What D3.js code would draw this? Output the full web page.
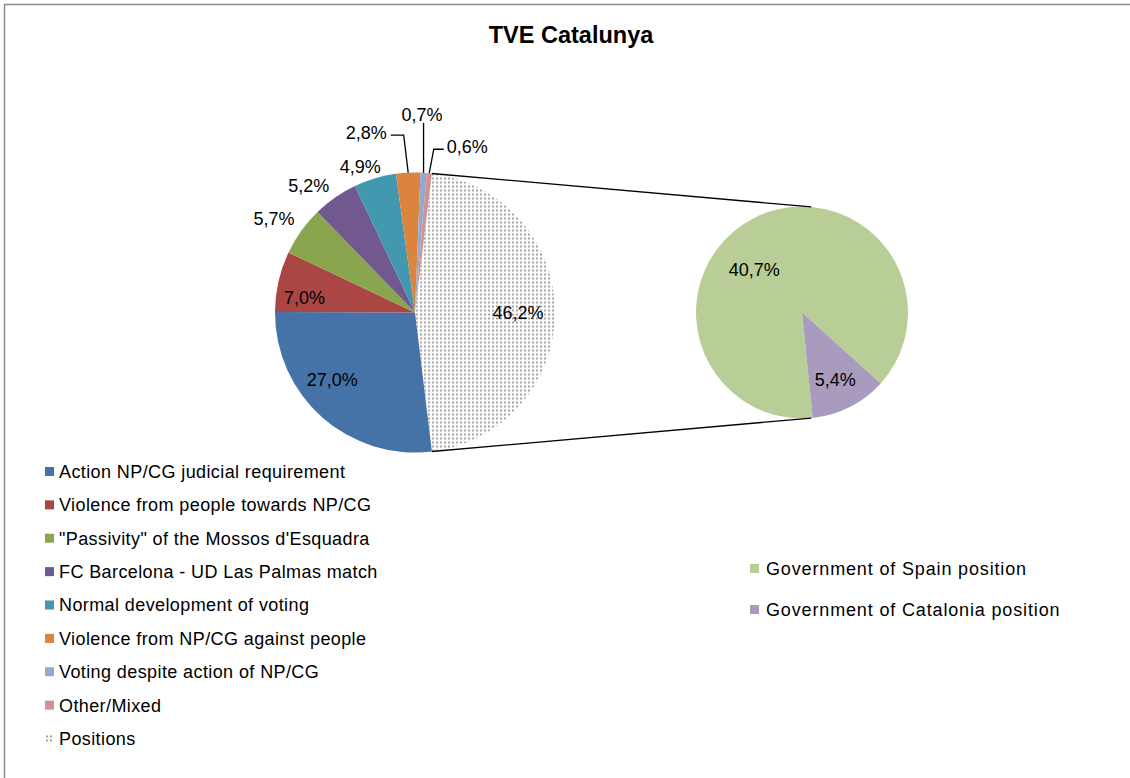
<!DOCTYPE html>
<html>
<head>
<meta charset="utf-8">
<script src="https://cdn.jsdelivr.net/npm/d3@7"></script>
<style>
  body { margin: 0; background: #fff; overflow: hidden; }
  svg { display: block; font-family: "Liberation Sans", Arial, sans-serif; }
</style>
</head>
<body>
<div id="chart"></div>
<script>
// Main pie categories (legend order) and shares in %
const categories = [
  "Action NP/CG judicial requirement",
  "Violence from people towards NP/CG",
  "\"Passivity\" of the Mossos d'Esquadra",
  "FC Barcelona - UD Las Palmas match",
  "Normal development of voting",
  "Violence from NP/CG against people",
  "Voting despite action of NP/CG",
  "Other/Mixed",
  "Positions"
];
const values = [27.0, 7.0, 5.7, 5.2, 4.9, 2.8, 0.7, 0.6, 46.2];
const colors = ["#4572A7", "#AA4643", "#89A54E", "#71588F", "#4198AF", "#DB843D", "#93A9CF", "#D19392", "pattern"];

// Secondary pie (breakdown of "Positions")
const subCategories = ["Government of Spain position", "Government of Catalonia position"];
const subValues = [40.7, 5.4];
const subColors = ["#B9CD96", "#A99BBD"];

const fmt = v => v.toFixed(1).replace(".", ",") + "%";

const width = 1130, height = 778;
const svg = d3.select("#chart").append("svg")
  .attr("width", width)
  .attr("height", height);

// dotted fill used for the "Positions" slice
const defs = svg.append("defs");
const pat = defs.append("pattern")
  .attr("id", "dots")
  .attr("patternUnits", "userSpaceOnUse")
  .attr("width", 4).attr("height", 4);
pat.append("rect").attr("width", 4).attr("height", 4).attr("fill", "#fff");
pat.append("circle").attr("cx", 2).attr("cy", 2).attr("r", 1.1).attr("fill", "#8f8f8f");
const fillOf = c => c === "pattern" ? "url(#dots)" : c;

// chart area border (only top and left are visible)
svg.append("rect")
  .attr("x", 4.5).attr("y", 4.5)
  .attr("width", width + 20).attr("height", height + 20)
  .attr("fill", "none")
  .attr("stroke", "#8c8c8c")
  .attr("stroke-width", 1.5);

// Title
svg.append("text")
  .attr("x", 571).attr("y", 43)
  .attr("text-anchor", "middle")
  .style("font-size", "23.5px")
  .style("font-weight", "700")
  .text("TVE Catalunya");

const deg = Math.PI / 180;

// ---------- main pie ----------
const cx = 415, cy = 312.5, r = 140;
const total = d3.sum(values);
const posIdx = values.length - 1;
// Positions slice goes first and is centred on 3 o'clock
const order = [posIdx].concat(d3.range(posIdx));
const posSpan = values[posIdx] / total * 2 * Math.PI;
const start = Math.PI / 2 - posSpan / 2;

const pie = d3.pie().sort(null).value(i => values[i])
  .startAngle(start).endAngle(start + 2 * Math.PI);
const arcs = pie(order);
const arc = d3.arc().innerRadius(0).outerRadius(r);

const gMain = svg.append("g").attr("transform", `translate(${cx},${cy})`);
gMain.selectAll("path")
  .data(arcs)
  .enter().append("path")
  .attr("d", arc)
  .attr("fill", d => fillOf(colors[d.data]));

// ---------- secondary pie ----------
const sx = 802, sy = 312.5, sr = 106;
const subRot = 174.2 * deg;
const subPie = d3.pie().sort(null).value(i => subValues[i])
  .startAngle(subRot).endAngle(subRot + 2 * Math.PI);
const subArcs = subPie(d3.range(subValues.length));
const subArc = d3.arc().innerRadius(0).outerRadius(sr);

const gSub = svg.append("g").attr("transform", `translate(${sx},${sy})`);
gSub.selectAll("path")
  .data(subArcs)
  .enter().append("path")
  .attr("d", subArc)
  .attr("fill", d => subColors[d.data]);

// ---------- connector lines (tangent to the secondary pie) ----------
const polar = (x, y, rad, a) => [x + rad * Math.sin(a), y - rad * Math.cos(a)];
const posArc = arcs.find(d => d.data === posIdx);
[[posArc.startAngle, 1], [posArc.endAngle, -1]].forEach(([a, side]) => {
  const p = polar(cx, cy, r, a);
  const dx = p[0] - sx, dy = p[1] - sy;
  const dist = Math.hypot(dx, dy);
  const base = Math.atan2(dy, dx);
  const t = base + side * Math.acos(sr / dist);
  const q = [sx + sr * Math.cos(t), sy + sr * Math.sin(t)];
  svg.append("line")
    .attr("x1", p[0]).attr("y1", p[1])
    .attr("x2", q[0]).attr("y2", q[1])
    .attr("stroke", "#000")
    .attr("stroke-width", 1.3);
});

// ---------- data labels ----------
// nudges mimic Excel's best-fit label placement
const labelNudge = {
  0: [-13, -11], 1: [-8, 8], 2: [-11, -1], 3: [-15, 4], 4: [-9, 7],
  5: [-42, -40], 6: [-1.5, -58], 7: [38, -26.5], 8: [-2, 0]
};
const insideSet = [0, 1, 8];
const leaderSet = [5, 6, 7];
const midOf = d => (d.startAngle + d.endAngle) / 2;

arcs.forEach(d => {
  const i = d.data;
  const m = midOf(d);
  const n = labelNudge[i];
  let base;
  if (insideSet.includes(i)) base = polar(cx, cy, r * 0.75, m);
  else if (leaderSet.includes(i)) base = polar(cx, cy, r, m);
  else base = polar(cx, cy, r + 20, m);
  const lx = base[0] + n[0], ly = base[1] + n[1];
  const txt = svg.append("text")
    .attr("x", lx).attr("y", ly)
    .attr("dy", "0.36em")
    .attr("text-anchor", "middle")
    .style("font-size", "18px")
    .style("fill", "#000")
    .text(fmt(values[i]));

  if (leaderSet.includes(i)) {
    const bb = txt.node().getBBox();
    let pts;
    if (Math.abs(n[0]) < 10) {
      pts = [base, [base[0], ly + 8]];
    } else {
      const s = Math.sign(n[0]);
      const ex = base[0] + s * 4.5, ey = ly + 2.5;
      const tx = s < 0 ? bb.x + bb.width + 4 : bb.x - 3;
      pts = [base, [ex, ey], [tx, ey]];
    }
    svg.append("path")
      .attr("d", d3.line()(pts))
      .attr("fill", "none")
      .attr("stroke", "#000")
      .attr("stroke-width", 1.3);
  }
});

const subNudge = [[-16.5, 18.5], [2, 5.5]];
subArcs.forEach(d => {
  const p = polar(sx, sy, sr * 0.65, midOf(d));
  svg.append("text")
    .attr("x", p[0] + subNudge[d.data][0])
    .attr("y", p[1] + subNudge[d.data][1])
    .attr("dy", "0.36em")
    .attr("text-anchor", "middle")
    .style("font-size", "18px")
    .text(fmt(subValues[d.data]));
});

// ---------- legends ----------
const legendY = d3.scalePoint().domain(d3.range(categories.length)).range([471.5, 738.5]);
const legend = svg.append("g");
const items = legend.selectAll(".legend-item")
  .data(d3.range(categories.length))
  .enter().append("g")
  .attr("class", "legend-item")
  .attr("transform", i => `translate(45, ${legendY(i)})`);
items.append("rect")
  .attr("x", 0).attr("y", -4.5)
  .attr("width", 9).attr("height", 9)
  .attr("fill", i => fillOf(colors[i]));
items.append("text")
  .attr("x", 14)
  .attr("dy", "0.36em")
  .style("font-size", "18px")
  .style("letter-spacing", "0.4px")
  .text(i => categories[i]);

const subLegendY = d3.scalePoint().domain(d3.range(subCategories.length)).range([568.5, 609.5]);
const subItems = svg.append("g").selectAll(".sub-legend-item")
  .data(d3.range(subCategories.length))
  .enter().append("g")
  .attr("class", "sub-legend-item")
  .attr("transform", i => `translate(750, ${subLegendY(i)})`);
subItems.append("rect")
  .attr("x", 0).attr("y", -4.5)
  .attr("width", 9).attr("height", 9)
  .attr("fill", i => subColors[i]);
subItems.append("text")
  .attr("x", 16)
  .attr("dy", "0.36em")
  .style("font-size", "18px")
  .style("letter-spacing", "0.85px")
  .text(i => subCategories[i]);
</script>
</body>
</html>
